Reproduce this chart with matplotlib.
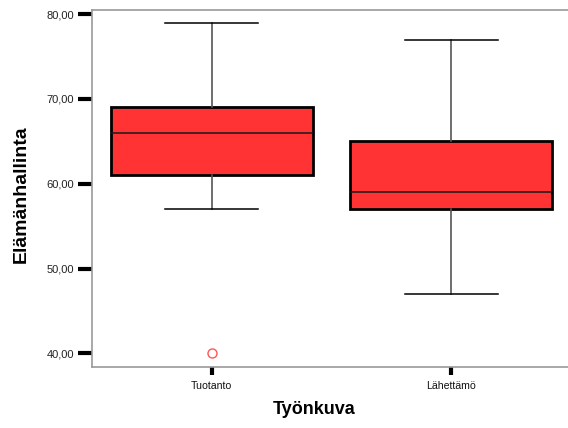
import matplotlib
matplotlib.use("Agg")
import matplotlib.pyplot as plt

plt.rcParams['font.family'] = ['Liberation Sans', 'DejaVu Sans']

# Box plot summary per job type
categories = ["Tuotanto", "Lähettämö"]
whisker_low = [57, 47]
q1 = [61, 57]
median = [66, 59]
q3 = [69, 65]
whisker_high = [79, 77]
outliers = [[40], []]

y_ticks = [40, 50, 60, 70, 80]
y_tick_labels = ["40,00", "50,00", "60,00", "70,00", "80,00"]

W, H = 568, 428
fig = plt.figure(figsize=(W / 100, H / 100), dpi=100)
ax = fig.add_axes([92 / W, 1 - 367 / H, 479 / W, 357 / H])

stats = []
for i, name in enumerate(categories):
    stats.append(dict(label=name, whislo=whisker_low[i], q1=q1[i], med=median[i],
                      q3=q3[i], whishi=whisker_high[i], fliers=outliers[i]))

ax.bxp(stats, positions=range(len(categories)), widths=0.845, patch_artist=True,
       boxprops=dict(facecolor="#ff3333", edgecolor="black", linewidth=2.0),
       medianprops=dict(color="#1a1a1a", linewidth=1.1),
       whiskerprops=dict(color="#555555", linewidth=1.2),
       capprops=dict(color="black", linewidth=1.1),
       capwidths=0.39,
       flierprops=dict(marker="o", markerfacecolor="none", markeredgecolor="#ff5555",
                       markersize=6.5, markeredgewidth=1.0))

ax.set_xlim(-0.5, 1.5)
ax.set_ylim(38.38, 80.5)
ax.set_yticks(y_ticks)
ax.set_yticklabels(y_tick_labels, fontsize=8, color="#222222")
ax.set_xticks(range(len(categories)))
ax.set_xticklabels(categories, fontsize=7.6, color="#111111")

ax.tick_params(axis="y", direction="out", length=10, width=3, color="black", pad=3)
ax.tick_params(axis="x", direction="out", length=6, width=3, color="black", pad=4)

for side in ["left", "top", "bottom"]:
    ax.spines[side].set_color("#999999")
    ax.spines[side].set_linewidth(1.2)
ax.spines["right"].set_visible(False)

fig.text(21 / W, 1 - 194 / H, "Elämänhallinta", rotation=90, fontsize=14,
         fontweight="bold", ha="center", va="center")
fig.text(314 / W, 1 - 410 / H, "Työnkuva", fontsize=13, fontweight="bold",
         ha="center", va="center")

fig.savefig("out.png", dpi=100)
